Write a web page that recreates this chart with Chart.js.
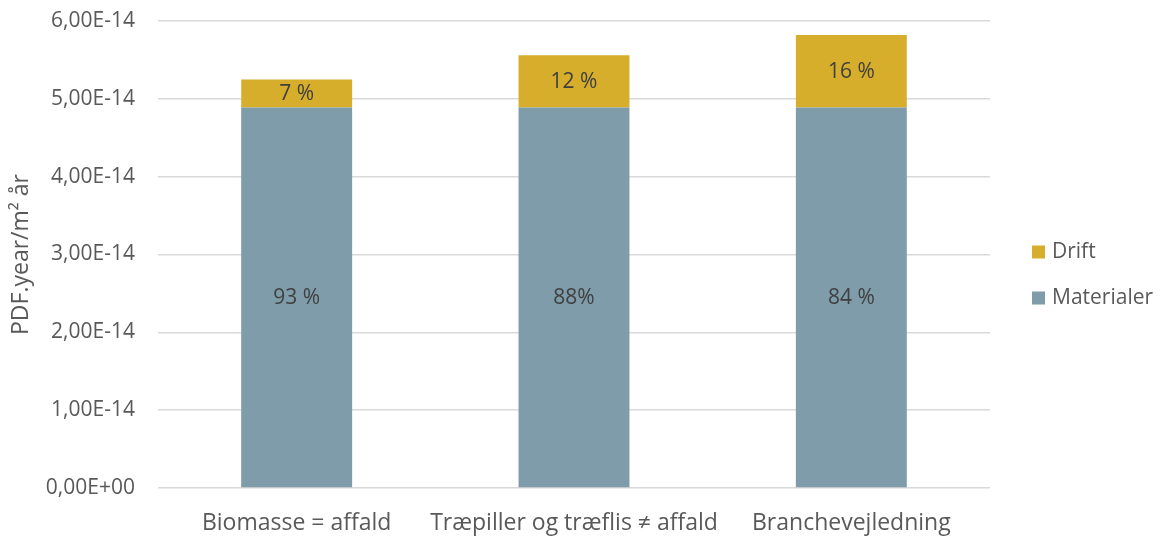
<!DOCTYPE html>
<html lang="da">
<head>
<meta charset="UTF-8">
<title>PDF.year/m² år</title>
<script src="https://cdn.jsdelivr.net/npm/chart.js"></script>
<style>
    body { margin: 0; background: #fff; }
    #wrap { width: 1161px; height: 540px; }
</style>
</head>
<body>
<div id="wrap"><canvas id="chart"></canvas></div>
<script>
    // Chart data
    const categories = ['Biomasse = affald', 'Træpiller og træflis ≠ affald', 'Branchevejledning'];
    const materialer = [4.89e-14, 4.89e-14, 4.89e-14];
    const drift = [0.36e-14, 0.67e-14, 0.93e-14];
    const yTickLabels = ['0,00E+00', '1,00E-14', '2,00E-14', '3,00E-14', '4,00E-14', '5,00E-14', '6,00E-14'];
    // spacing before the % sign in each bar label
    const materialerGap = [' ', '', ' '];
    const driftGap = [' ', ' ', ' '];

    const FONT = "'Open Sans', sans-serif";
    const TEXT = '#595959';

    // share labels, centred in each segment
    const shareLabels = {
        id: 'shareLabels',
        afterDatasetsDraw(chart) {
            const ctx = chart.ctx;
            ctx.save();
            ctx.font = '21px ' + FONT;
            ctx.fillStyle = '#404040';
            ctx.textAlign = 'center';
            ctx.textBaseline = 'middle';
            chart.data.datasets.forEach((ds, di) => {
                const meta = chart.getDatasetMeta(di);
                meta.data.forEach((bar, i) => {
                    const total = materialer[i] + drift[i];
                    const pct = Math.round(ds.data[i] / total * 100);
                    const { x, y, base } = bar.getProps(['x', 'y', 'base'], true);
                    ctx.fillText(pct + ds.gaps[i] + '%', x, (y + base) / 2 + 1);
                });
            });
            ctx.restore();
        }
    };

    // legend to the right of the plot, top series first
    const sideLegend = {
        id: 'sideLegend',
        afterDraw(chart) {
            const ctx = chart.ctx;
            const x = chart.chartArea.right + 42;
            const rows = [252, 298];
            ctx.save();
            ctx.font = '21px ' + FONT;
            ctx.textBaseline = 'middle';
            chart.data.datasets.slice().reverse().forEach((ds, i) => {
                ctx.fillStyle = ds.backgroundColor;
                ctx.fillRect(x, rows[i] - 6.5, 13, 13);
                ctx.fillStyle = TEXT;
                ctx.fillText(ds.label, x + 20, rows[i]);
            });
            ctx.restore();
        }
    };

    new Chart(document.getElementById('chart'), {
        type: 'bar',
        data: {
            labels: categories,
            datasets: [
                { label: 'Materialer', data: materialer, gaps: materialerGap, backgroundColor: '#7F9CAA' },
                { label: 'Drift', data: drift, gaps: driftGap, backgroundColor: '#D6AE2B' }
            ]
        },
        options: {
            responsive: true,
            maintainAspectRatio: false,
            animation: false,
            layout: { padding: { top: 21, right: 171, left: 0, bottom: 0 } },
            datasets: { bar: { categoryPercentage: 1, barPercentage: 0.4 } },
            plugins: {
                legend: { display: false },
                tooltip: { enabled: false }
            },
            scales: {
                x: {
                    stacked: true,
                    grid: { display: false, drawTicks: false },
                    border: { display: false },
                    ticks: { color: TEXT, font: { family: FONT, size: 23 }, padding: 22, maxRotation: 0, autoSkip: false },
                    afterFit: s => { s.height = 52; s.paddingLeft = 0; s.paddingRight = 0; }
                },
                y: {
                    stacked: true,
                    min: 0,
                    max: 6e-14,
                    grid: { color: '#D9D9D9', lineWidth: 1.5, drawTicks: false },
                    border: { display: false },
                    ticks: {
                        stepSize: 1e-14,
                        color: TEXT,
                        font: { family: FONT, size: 21 },
                        padding: 23,
                        callback: (v, i) => yTickLabels[i]
                    },
                    title: {
                        display: true,
                        text: 'PDF.year/m² år',
                        color: TEXT,
                        font: { family: FONT, size: 23 },
                        padding: { top: 8, bottom: 0 }
                    },
                    afterFit: s => { s.width = 158; s.paddingTop = 0; s.paddingBottom = 0; }
                }
            }
        },
        plugins: [shareLabels, sideLegend]
    });
</script>
</body>
</html>
